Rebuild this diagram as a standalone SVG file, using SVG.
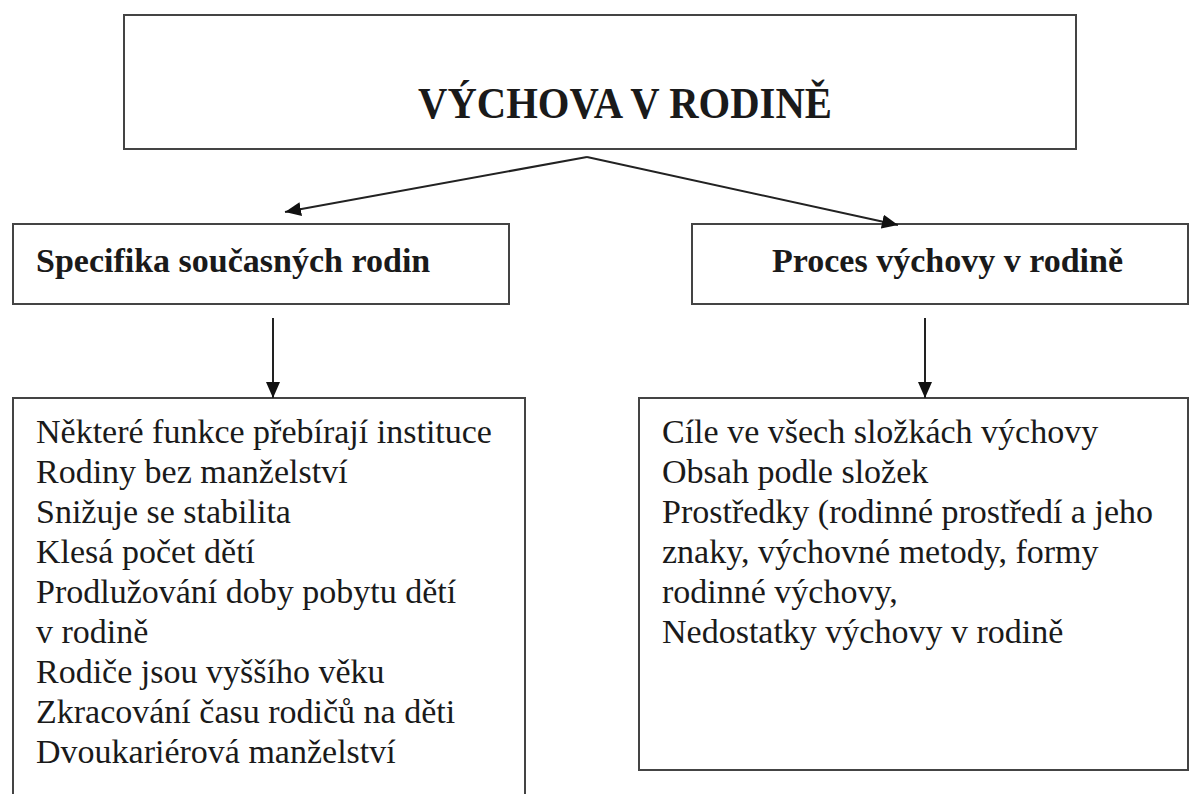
<svg xmlns="http://www.w3.org/2000/svg" width="1202" height="794" viewBox="0 0 1202 794">
  <style>
    .box { fill: #ffffff; stroke: #444444; stroke-width: 2; }
    .conn { fill: none; stroke: #222222; stroke-width: 2; }
    .title { font-family: "Liberation Serif", "Times New Roman", serif; font-weight: bold; font-size: 44px; fill: #1a1a1a; }
    .head { font-family: "Liberation Serif", "Times New Roman", serif; font-weight: bold; font-size: 34px; fill: #1a1a1a; }
    .body { font-family: "Liberation Serif", "Times New Roman", serif; font-size: 34px; fill: #1a1a1a; }
  </style>
  <defs>
    <marker id="arrow" viewBox="0 0 16 14" refX="16" refY="7" markerWidth="16" markerHeight="14" markerUnits="userSpaceOnUse" orient="auto">
      <path d="M0,0 L16,7 L0,14 z" fill="#111111"/>
    </marker>
  </defs>
  <rect width="1202" height="794" fill="#ffffff"/>

  <g id="node-root">
    <rect class="box" x="124" y="15" width="952" height="134"/>
    <text class="title" x="418" y="118" textLength="414" lengthAdjust="spacingAndGlyphs">VÝCHOVA V RODINĚ</text>
  </g>

  <g id="node-specifika">
    <rect class="box" x="13" y="224" width="496" height="80"/>
    <text class="head" x="36" y="272">Specifika současných rodin</text>
  </g>

  <g id="node-proces">
    <rect class="box" x="692" y="224" width="496" height="80"/>
    <text class="head" x="772" y="272">Proces výchovy v rodině</text>
  </g>

  <g id="node-specifika-list">
    <rect class="box" x="13" y="398" width="512" height="420"/>
    <text class="body" x="36" y="443">Některé funkce přebírají instituce</text>
    <text class="body" x="36" y="483">Rodiny bez manželství</text>
    <text class="body" x="36" y="523">Snižuje se stabilita</text>
    <text class="body" x="36" y="563">Klesá počet dětí</text>
    <text class="body" x="36" y="603">Prodlužování doby pobytu dětí</text>
    <text class="body" x="36" y="643">v rodině</text>
    <text class="body" x="36" y="683">Rodiče jsou vyššího věku</text>
    <text class="body" x="36" y="723">Zkracování času rodičů na děti</text>
    <text class="body" x="36" y="763">Dvoukariérová manželství</text>
  </g>

  <g id="node-proces-list">
    <rect class="box" x="639" y="398" width="549" height="372"/>
    <text class="body" x="662" y="443">Cíle ve všech složkách výchovy</text>
    <text class="body" x="662" y="483">Obsah podle složek</text>
    <text class="body" x="662" y="523">Prostředky (rodinné prostředí a jeho</text>
    <text class="body" x="662" y="563">znaky, výchovné metody, formy</text>
    <text class="body" x="662" y="603">rodinné výchovy,</text>
    <text class="body" x="662" y="643">Nedostatky výchovy v rodině</text>
  </g>

  <g id="connectors">
    <line class="conn" x1="587" y1="157" x2="285" y2="212" marker-end="url(#arrow)"/>
    <line class="conn" x1="587" y1="157" x2="898" y2="225" marker-end="url(#arrow)"/>
    <line class="conn" x1="273" y1="318" x2="273" y2="398" marker-end="url(#arrow)"/>
    <line class="conn" x1="925" y1="318" x2="925" y2="398" marker-end="url(#arrow)"/>
  </g>
</svg>
